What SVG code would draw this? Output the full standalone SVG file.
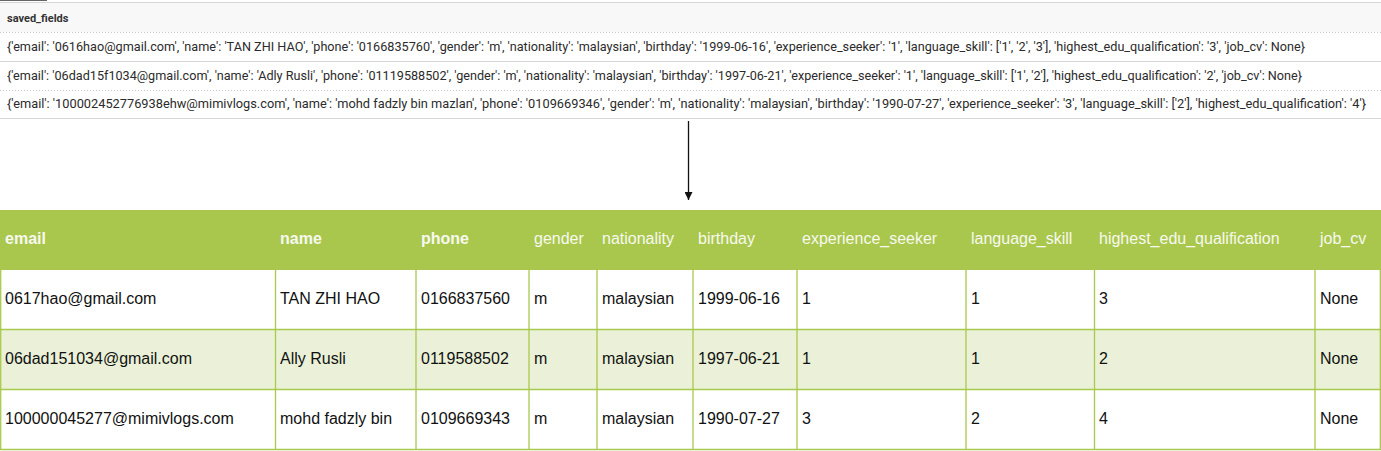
<svg xmlns="http://www.w3.org/2000/svg" width="1381" height="451" viewBox="0 0 1381 451">
<defs>
<style>
.src{font-family:Roboto,"Liberation Sans",sans-serif;font-size:12.6px;fill:#2b2b2b}
.srch{font-family:Roboto,"Liberation Sans",sans-serif;font-size:11px;font-weight:bold;fill:#333}
.th{font-family:"Liberation Sans",Arial,sans-serif;font-size:16px;fill:#f7f9f0}
.thb{font-weight:bold}
.td{font-family:"Liberation Sans",Arial,sans-serif;font-size:16px;fill:#111}
.grid{stroke:#a9c94e;stroke-width:1.3;fill:none}
.solid{stroke:#d6d6d6;stroke-width:1}
.dot{stroke:#c8c8c8;stroke-width:1;stroke-dasharray:1 2}
</style>
<marker id="ah" viewBox="0 0 10 10" refX="10" refY="5" markerWidth="8" markerHeight="8" markerUnits="userSpaceOnUse" orient="auto">
<path d="M0,0 L10,5 L0,10 Z" fill="#111"/>
</marker>
</defs>
<rect width="1381" height="451" fill="#ffffff"/>

<g id="source-table">
<line x1="0" y1="0.5" x2="47" y2="0.5" stroke="#666" stroke-width="1"/>
<rect x="0" y="3" width="1381" height="29" fill="#f8f8f8"/>
<line class="solid" x1="0" y1="2.5" x2="1381" y2="2.5"/>
<text class="srch" x="7" y="21.5">saved_fields</text>
<line class="dot" x1="0" y1="32.5" x2="1381" y2="32.5"/>
<g id="source-row-1">
<text class="src" x="7" y="51" textLength="1298" lengthAdjust="spacingAndGlyphs">{'email': '0616hao@gmail.com', 'name': 'TAN ZHI HAO', 'phone': '0166835760', 'gender': 'm', 'nationality': 'malaysian', 'birthday': '1999-06-16', 'experience_seeker': '1', 'language_skill': ['1', '2', '3'], 'highest_edu_qualification': '3', 'job_cv': None}</text>
</g>
<line class="solid" x1="0" y1="61.5" x2="1381" y2="61.5"/>
<g id="source-row-2">
<text class="src" x="7" y="79.5" textLength="1295" lengthAdjust="spacingAndGlyphs">{'email': '06dad15f1034@gmail.com', 'name': 'Adly Rusli', 'phone': '01119588502', 'gender': 'm', 'nationality': 'malaysian', 'birthday': '1997-06-21', 'experience_seeker': '1', 'language_skill': ['1', '2'], 'highest_edu_qualification': '2', 'job_cv': None}</text>
</g>
<line class="dot" x1="0" y1="90.5" x2="1381" y2="90.5"/>
<g id="source-row-3">
<text class="src" x="7" y="108" textLength="1359" lengthAdjust="spacingAndGlyphs">{'email': '100002452776938ehw@mimivlogs.com', 'name': 'mohd fadzly bin mazlan', 'phone': '0109669346', 'gender': 'm', 'nationality': 'malaysian', 'birthday': '1990-07-27', 'experience_seeker': '3', 'language_skill': ['2'], 'highest_edu_qualification': '4'}</text>
</g>
<line class="solid" x1="0" y1="118.5" x2="1381" y2="118.5"/>
</g>

<g id="connectors">
<line x1="688.5" y1="121" x2="688.5" y2="200" stroke="#111" stroke-width="1.3" marker-end="url(#ah)"/>
</g>

<g id="result-table">
<g id="result-header">
<rect x="0" y="210" width="1381" height="60" fill="#a9c74c"/>
<text class="th thb" x="5" y="244">email</text>
<text class="th thb" x="280" y="244">name</text>
<text class="th thb" x="421" y="244">phone</text>
<text class="th" x="534" y="244">gender</text>
<text class="th" x="602" y="244">nationality</text>
<text class="th" x="698" y="244">birthday</text>
<text class="th" x="802" y="244">experience_seeker</text>
<text class="th" x="971" y="244">language_skill</text>
<text class="th" x="1099" y="244">highest_edu_qualification</text>
<text class="th" x="1320" y="244">job_cv</text>
</g>
<g id="result-row-1">
<rect x="0" y="270" width="1381" height="60" fill="#ffffff"/>
<text class="td" x="5" y="304">0617hao@gmail.com</text>
<text class="td" x="280" y="304">TAN ZHI HAO</text>
<text class="td" x="421" y="304">0166837560</text>
<text class="td" x="534" y="304">m</text>
<text class="td" x="602" y="304">malaysian</text>
<text class="td" x="698" y="304">1999-06-16</text>
<text class="td" x="802" y="304">1</text>
<text class="td" x="971" y="304">1</text>
<text class="td" x="1099" y="304">3</text>
<text class="td" x="1320" y="304">None</text>
</g>
<g id="result-row-2">
<rect x="0" y="330" width="1381" height="60" fill="#eaf1d8"/>
<text class="td" x="5" y="364">06dad151034@gmail.com</text>
<text class="td" x="280" y="364">Ally Rusli</text>
<text class="td" x="421" y="364">0119588502</text>
<text class="td" x="534" y="364">m</text>
<text class="td" x="602" y="364">malaysian</text>
<text class="td" x="698" y="364">1997-06-21</text>
<text class="td" x="802" y="364">1</text>
<text class="td" x="971" y="364">1</text>
<text class="td" x="1099" y="364">2</text>
<text class="td" x="1320" y="364">None</text>
</g>
<g id="result-row-3">
<rect x="0" y="390" width="1381" height="60" fill="#ffffff"/>
<text class="td" x="5" y="424">100000045277@mimivlogs.com</text>
<text class="td" x="280" y="424">mohd fadzly bin</text>
<text class="td" x="421" y="424">0109669343</text>
<text class="td" x="534" y="424">m</text>
<text class="td" x="602" y="424">malaysian</text>
<text class="td" x="698" y="424">1990-07-27</text>
<text class="td" x="802" y="424">3</text>
<text class="td" x="971" y="424">2</text>
<text class="td" x="1099" y="424">4</text>
<text class="td" x="1320" y="424">None</text>
</g>
<g id="result-grid">
<path class="grid" d="M0,329.5H1381M0,389.5H1381M0,449.5H1381M0.7,270V450M275.5,270V450M416,270V450M529,270V450M597,270V450M693,270V450M797,270V450M966,270V450M1094.5,270V450M1315,270V450M1380.3,270V450"/>
</g>
</g>
</svg>
